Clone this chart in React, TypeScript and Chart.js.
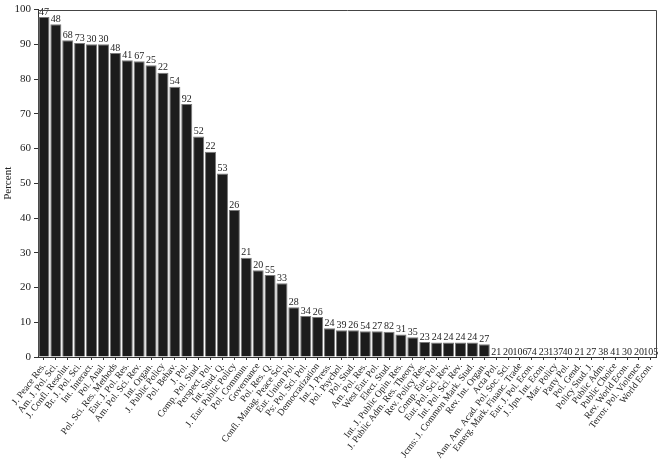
import React, { useEffect, useRef } from "react";
import { Chart, registerables } from "chart.js";

Chart.register(...registerables);

const journals = [
  "J. Peace Res.", "Am. J. Pol. Sci.", "J. Confl. Resolut.", "Br. J. Pol. Sci.", "Int. Interact.",
  "Pol. Anal.", "Pol. Sci. Res. Methods", "Eur. J. Pol. Res.", "Am. Pol. Sci. Rev.", "Int. Organ.",
  "J. Public Policy", "Pol. Behav.", "J. Pol.", "Comp. Pol. Stud.", "Perspect. Pol.",
  "Int. Stud. Q.", "J. Eur. Public Policy", "Pol. Commun.", "Governance", "Pol. Res. Q.",
  "Confl. Manag. Peace Sci.", "Eur. Union Pol.", "Ps: Pol. Sci. Pol.", "Democratization", "Int. J. Press.",
  "Pol. Psychol.", "Pol. Stud.", "Am. Pol. Res.", "West Eur. Pol.", "Elect. Stud.",
  "Int. J. Public Opin. Res.", "J. Public Adm. Res. Theory", "Rev. Policy Res.", "Comp. Eur. Pol.", "Eur. Pol. Sci. Rev.",
  "Int. Pol. Sci. Rev.", "Jcms: J. Common Mark. Stud.", "Rev. Int. Organ.", "Acta Pol.", "Ann. Am. Acad. Pol. Soc. Sci.",
  "Emerg. Mark. Financ. Trade", "Eur. J. Pol. Econ.", "J. Jpn. Int. Econ.", "Mar. Policy", "Party Pol.",
  "Pol. Gend.", "Policy Stud. J.", "Public Adm.", "Public Choice", "Rev. World Econ.",
  "Terror. Pol. Violence", "World Econ.",
];

const articleCounts = [
  47, 48, 68, 73, 30, 30, 48, 41, 67, 25,
  22, 54, 92, 52, 22, 53, 26, 21, 20, 55,
  33, 28, 34, 26, 24, 39, 26, 54, 27, 82,
  31, 35, 23, 24, 24, 24, 24, 27, 21, 20,
  106, 74, 23, 137, 40, 21, 27, 38, 41, 30,
  20, 105,
];

const percentValues = [
  97.9, 95.8, 91.2, 90.4, 90.0, 90.0, 87.5, 85.4, 85.1, 84.0,
  81.8, 77.8, 72.8, 63.5, 59.1, 52.8, 42.3, 28.6, 25.0, 23.6,
  21.2, 14.3, 11.8, 11.5, 8.3, 7.7, 7.7, 7.4, 7.4, 7.3,
  6.5, 5.7, 4.3, 4.2, 4.2, 4.2, 4.2, 3.7, 0, 0,
  0, 0, 0, 0, 0, 0, 0, 0, 0, 0,
  0, 0,
];

const yTickStep = 10;
const yMax = 100;

const FONT = "\"Liberation Serif\", \"Times New Roman\", Tinos, serif";

export default function App() {
  const ref = useRef<HTMLCanvasElement | null>(null);

  useEffect(() => {
    document.body.style.margin = "0";
    const canvas = ref.current;
    if (!canvas) return;

    const countLabels = {
      id: "countLabels",
      afterDatasetsDraw(chart: any) {
        const ctx = chart.ctx;
        const meta = chart.getDatasetMeta(0);
        ctx.save();
        ctx.font = `10px ${FONT}`;
        ctx.fillStyle = "#222";
        ctx.textAlign = "center";
        ctx.textBaseline = "bottom";
        meta.data.forEach((bar: any, i: number) => {
          ctx.fillText(String(articleCounts[i]), bar.x, bar.y);
        });
        ctx.restore();
      },
    };

    const frame = {
      id: "frame",
      afterDraw(chart: any) {
        const { left, right, top, bottom } = chart.chartArea;
        const ctx = chart.ctx;
        ctx.save();
        ctx.strokeStyle = "#444";
        ctx.lineWidth = 1;
        ctx.beginPath();
        ctx.moveTo(left, Math.round(top) + 0.5);
        ctx.lineTo(Math.round(right) - 0.5, Math.round(top) + 0.5);
        ctx.lineTo(Math.round(right) - 0.5, bottom);
        ctx.stroke();
        ctx.restore();
      },
    };

    const chart = new Chart(canvas, {
      type: "bar",
      data: {
        labels: journals,
        datasets: [
          {
            data: percentValues,
            backgroundColor: "#1c1c1c",
            borderColor: "#7a7a7a",
            borderWidth: 1,
            barPercentage: 1,
            categoryPercentage: 0.93,
          },
        ],
      },
      options: {
        responsive: false,
        animation: false,
        font: { family: FONT },
        layout: { padding: { top: 5, right: 4, left: 0, bottom: 0 } },
        plugins: {
          legend: { display: false },
          tooltip: { enabled: false },
        },
        scales: {
          x: {
            grid: {
              display: true,
              drawOnChartArea: false,
              drawTicks: true,
              tickLength: 3,
              color: "#333",
              offset: false,
            },
            border: { display: true, color: "#333", width: 1 },
            ticks: {
              autoSkip: false,
              minRotation: 53,
              maxRotation: 53,
              padding: 1,
              color: "#222",
              font: { family: FONT, size: 9.5 },
            },
            afterFit(scale: any) {
              scale.height = 107;
            },
          },
          y: {
            min: 0,
            max: yMax,
            grid: {
              display: true,
              drawOnChartArea: false,
              drawTicks: true,
              tickLength: 4,
              color: "#333",
            },
            border: { display: true, color: "#333", width: 1 },
            ticks: {
              stepSize: yTickStep,
              padding: 3,
              color: "#222",
              font: { family: FONT, size: 11 },
            },
            title: {
              display: true,
              text: "Percent",
              color: "#222",
              padding: { top: 2, bottom: 0 },
              font: { family: FONT, size: 11 },
            },
            afterFit(scale: any) {
              scale.width = 38;
            },
          },
        },
      },
      plugins: [countLabels, frame],
    });

    return () => chart.destroy();
  }, []);

  return (
    <div style={{ width: 661, height: 464 }}>
      <canvas
        ref={ref}
        width={661}
        height={464}
        style={{ position: "fixed", left: 0, top: 0, width: 661, height: 464 }}
      />
    </div>
  );
}
